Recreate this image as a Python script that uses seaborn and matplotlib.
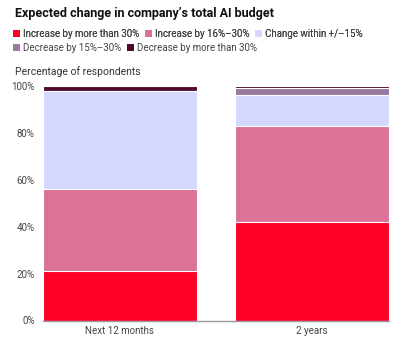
import matplotlib
matplotlib.use("Agg")
import matplotlib.pyplot as plt
import seaborn as sns
import pandas as pd
import numpy as np
from matplotlib.patches import Patch

categories = ["Next 12 months", "2 years"]
series_names = ["Increase by more than 30%", "Increase by 16%\u201330%", "Change within +/\u201315%",
                "Decrease by 15%\u201330%", "Decrease by more than 30%"]
inc_more_30 = [21, 42]
inc_16_30 = [35, 41]
within_15 = [42, 13]
dec_15_30 = [0, 3]
dec_more_30 = [2, 1]
colors = ["#ff0026", "#dc7397", "#d5d7ff", "#9a7aa0", "#4d0a2e"]
yticks = [0, 20, 40, 60, 80, 100]

sns.set_theme(style="white")
plt.rcParams["font.family"] = ["Roboto", "DejaVu Sans"]

series = [inc_more_30, inc_16_30, within_15, dec_15_30, dec_more_30]
cum = np.cumsum(np.array(series, dtype=float), axis=0)

fig = plt.figure(figsize=(3.98, 3.48), dpi=100)
ax = fig.add_axes([43/398, 1-320.5/348, (389-43)/398, (320.5-86)/348])

for i in range(len(series) - 1, -1, -1):
    df = pd.DataFrame({"cat": categories, "val": cum[i]})
    sns.barplot(data=df, x="cat", y="val", color=colors[i], width=0.8,
                edgecolor="white", linewidth=0.8, ax=ax, saturation=1)

ax.set_xlim(-0.4, 1.4)
ax.set_ylim(0, 100)
ax.set_yticks(yticks)
ax.set_yticklabels([f"{t}%" for t in yticks])
ax.set_xlabel("")
ax.set_ylabel("")
ax.tick_params(axis="both", length=0, labelsize=7, colors="#444444")
ax.tick_params(axis="y", pad=6)
ax.tick_params(axis="x", pad=4)
for s in ["top", "right", "left"]:
    ax.spines[s].set_visible(False)
ax.spines["bottom"].set_color("#999999")
ax.spines["bottom"].set_linewidth(1.0)
ax.set_zorder(1)

fig.text(15/398, 1-13/348, "Expected change in company\u2019s total AI budget",
         fontsize=9, fontweight="bold", va="center", ha="left", color="#111111")
fig.text(15/398, 1-72/348, "Percentage of respondents", fontsize=7.5,
         va="center", ha="left", color="#333333")

handles = [Patch(facecolor=c, edgecolor="none") for c in colors]
common = dict(loc="center left", frameon=False, fontsize=7, handlelength=0.7,
              handleheight=0.7, handletextpad=0.3, columnspacing=0.6,
              borderaxespad=0, borderpad=0)
leg1 = fig.legend(handles[:3], series_names[:3], bbox_to_anchor=(13/398, 1-34/348),
                  ncol=3, **common)
leg2 = fig.legend(handles[3:], series_names[3:], bbox_to_anchor=(13/398, 1-48/348),
                  ncol=2, **common)
for leg in (leg1, leg2):
    for t in leg.get_texts():
        t.set_color("#444444")
fig.add_artist(leg1)

fig.savefig("out.png", dpi=100)
